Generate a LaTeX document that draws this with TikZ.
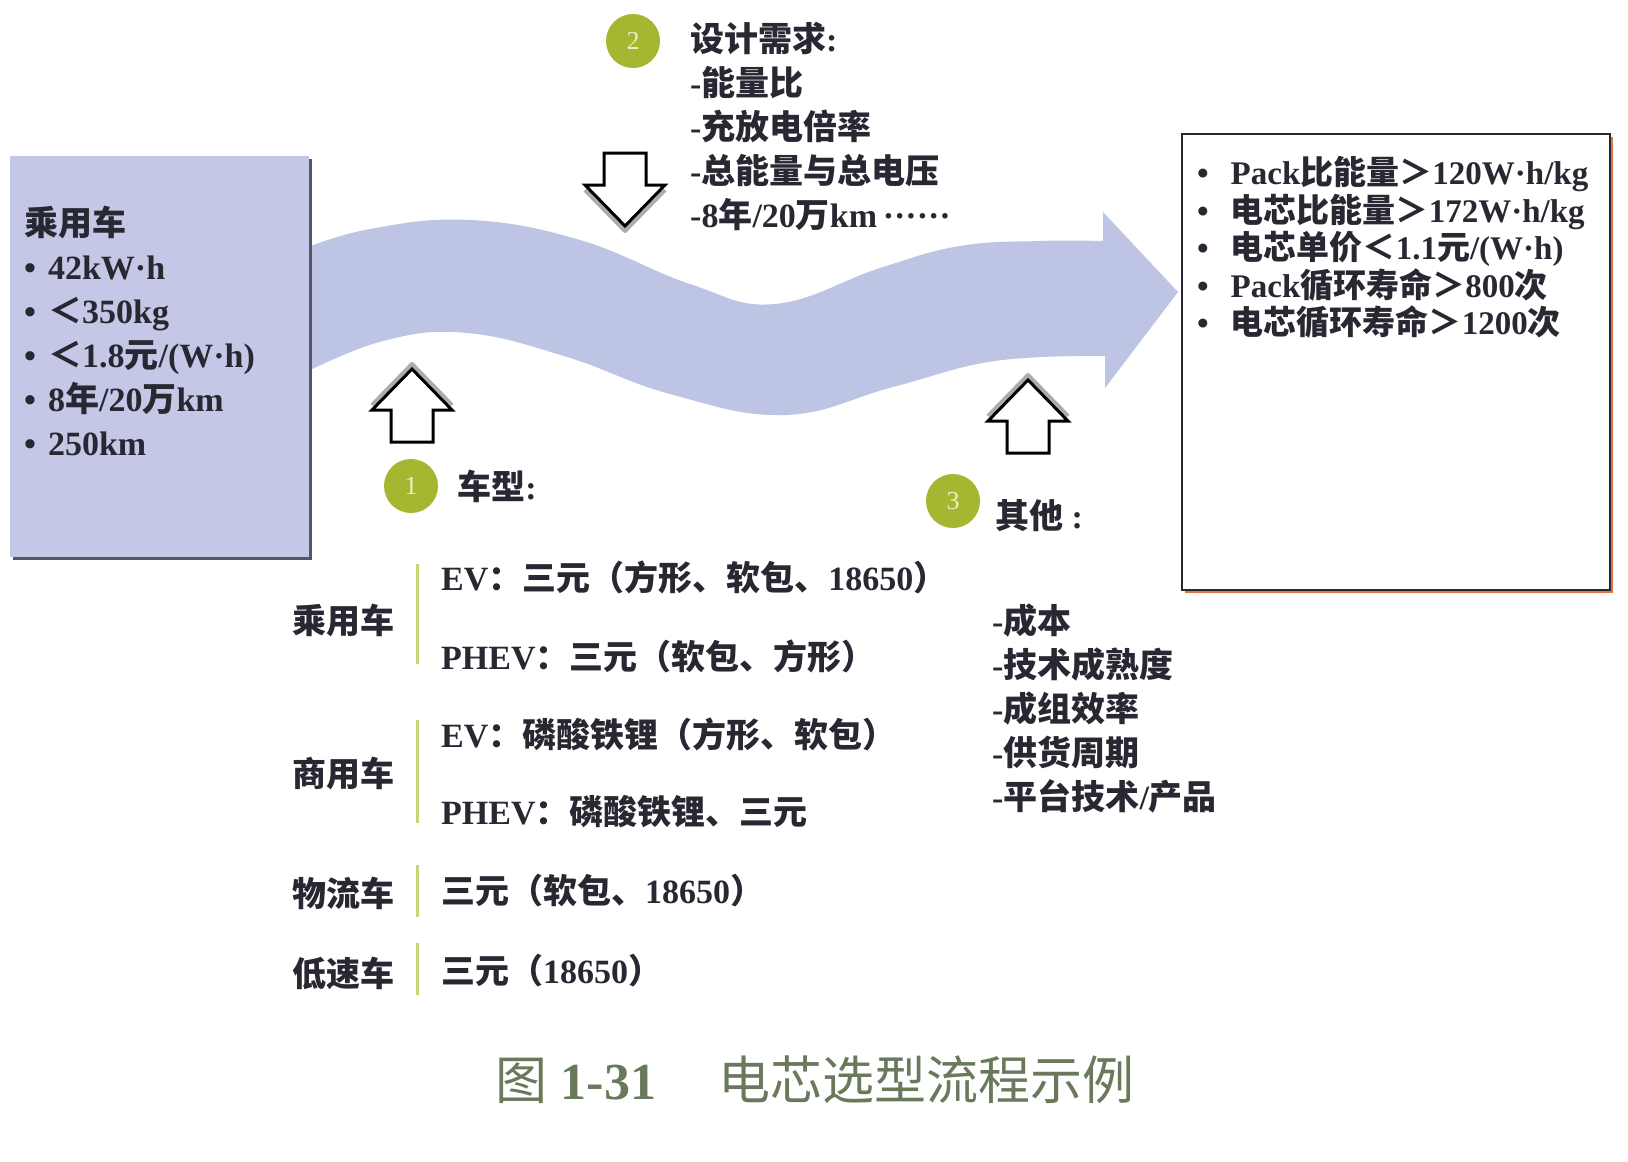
\documentclass[tikz,border=0pt]{standalone}
\usepackage{fontspec}
\setmainfont{Liberation Serif}
\newfontfamily\cjk{Noto Sans CJK SC}
\usetikzlibrary{positioning}

% CJK FONT SWITCHING
\XeTeXinterchartokenstate=1
\newXeTeXintercharclass\cjkclass
\newcount\cjkcount
\cjkcount="3000
\loop \XeTeXcharclass\cjkcount=\cjkclass \advance\cjkcount by 1 \ifnum\cjkcount<"3040 \repeat
\cjkcount="4E00
\loop \XeTeXcharclass\cjkcount=\cjkclass \advance\cjkcount by 1 \ifnum\cjkcount<"A000 \repeat
\cjkcount="FF00
\loop \XeTeXcharclass\cjkcount=\cjkclass \advance\cjkcount by 1 \ifnum\cjkcount<"FF60 \repeat
\XeTeXinterchartoks 0 \cjkclass = {\cjk}
\XeTeXinterchartoks 4095 \cjkclass = {\cjk}
\XeTeXinterchartoks \cjkclass 0 = {\rmfamily}
\XeTeXinterchartoks \cjkclass 4095 = {\rmfamily}

\definecolor{bandblue}{RGB}{190,196,228}
\definecolor{boxblue}{RGB}{196,199,229}
\definecolor{boxshade}{RGB}{85,85,100}
\definecolor{badgegreen}{RGB}{166,182,48}
\definecolor{badgetext}{RGB}{238,238,200}
\definecolor{bargreen}{RGB}{200,214,120}
\definecolor{inkgray}{RGB}{40,40,50}
\definecolor{capgreen}{RGB}{105,122,92}
\definecolor{shadowred}{RGB}{225,115,70}

\begin{document}
\begin{tikzpicture}[x=1pt, y=-1pt,
    txt/.style={font=\bfseries\fontsize{34}{44}\selectfont, text=inkgray, inner sep=0pt},
    spectxt/.style={font=\bfseries\fontsize{33}{37.5}\selectfont, text=inkgray, inner sep=0pt, align=left},
    badge/.style={circle, fill=badgegreen, minimum size=54pt, inner sep=0pt, text=badgetext, font=\fontsize{26}{26}\selectfont},
    greenbar/.style={draw=bargreen, line width=3pt},
    blockarrow/.pic={
        \draw[gray!65, line width=4pt, line join=round] (-40,-37) -- (0,-78) -- (40,-37);
        \draw[line width=3pt, fill=white] (-21,0) -- (-21,-32) -- (-40,-32) -- (0,-73)
            -- (40,-32) -- (21,-32) -- (21,0) -- cycle;
    }]

    \useasboundingbox (0,0) rectangle (1628,1162);
    \fill[white] (0,0) rectangle (1628,1162);

    % DRAW WAVY BAND
    \fill[bandblue] plot[smooth, tension=0.7] coordinates {(300,250) (370,229) (470,220) (580,240) (690,284) (775,304) (880,268) (960,246) (1040,241) (1103,241)}
        -- (1103,212) -- (1178,292) -- (1105,388) -- (1105,356)
        -- plot[smooth, tension=0.7] coordinates {(1105,356) (995,361) (893,387) (785,415) (670,394) (567,357) (467,333) (383,341) (300,375)}
        -- cycle;

    % DRAW LEFT BOX
    \fill[boxshade] (13,159) rectangle (312,560);
    \node[fill=boxblue, minimum width=299pt, minimum height=401pt, anchor=north west] (car) at (10,156) {};
    \node[txt, align=left, anchor=north west] (cartext) at (24,206) {乘用车\\
        •\hspace{12pt}42kW·h\\ •\hspace{12pt}＜350kg\\ •\hspace{12pt}＜1.8元/(W·h)\\
        •\hspace{12pt}8年/20万km\\ •\hspace{12pt}250km};

    % DRAW RIGHT BOX
    \fill[shadowred] (1185,137) rectangle (1613,593);
    \node[draw=inkgray, line width=2pt, fill=white, minimum width=428pt, minimum height=456pt, anchor=north west] (spec) at (1181,133) {};
    \node[spectxt, anchor=north west] (spectext) at (1197,156) {%
        •\hspace{22pt}Pack比能量＞120W·h/kg\\ •\hspace{22pt}电芯比能量＞172W·h/kg\\
        •\hspace{22pt}电芯单价＜1.1元/(W·h)\\ •\hspace{22pt}Pack循环寿命＞800次\\
        •\hspace{22pt}电芯循环寿命＞1200次};

    % DRAW BLOCK ARROWS
    \pic at (412,442) {blockarrow};
    \pic at (1028,453) {blockarrow};
    \pic[rotate=180] at (625,153) {blockarrow};

    % DRAW BADGES AND HEADINGS
    \node[badge] (b2) at (633,41) {2};
    \node[txt, align=left, anchor=north west] (design) at (690,22) {设计需求:\\ -能量比\\ -充放电倍率\\ -总能量与总电压\\ -8年/20万km\,······};
    \node[badge] (b1) at (411,486) {1};
    \node[txt, right=19pt of b1] (typehead) {车型:};
    \node[badge] (b3) at (953,501) {3};
    \node[txt, anchor=west] (otherhead) at (995,516) {其他 :};
    \node[txt, align=left, anchor=north west] (others) at (992,604) {-成本\\ -技术成熟度\\ -成组效率\\ -供货周期\\ -平台技术/产品};

    % DRAW VEHICLE LIST
    \node[txt] (pv) at (343,620) {乘用车};
    \node[txt] (cv) at (343,773) {商用车};
    \node[txt] (lv) at (343,893) {物流车};
    \node[txt] (sv) at (343,973) {低速车};
    \draw[greenbar] (417,564) -- (417,664);
    \draw[greenbar] (417,720) -- (417,823);
    \draw[greenbar] (417,865) -- (417,917);
    \draw[greenbar] (417,943) -- (417,995);
    \node[txt, anchor=west] (pvev) at (441,577) {EV：三元（方形、软包、18650）};
    \node[txt, anchor=west] (pvphev) at (441,656) {PHEV：三元（软包、方形）};
    \node[txt, anchor=west] (cvev) at (441,734) {EV：磷酸铁锂（方形、软包）};
    \node[txt, anchor=west] (cvphev) at (441,812) {PHEV：磷酸铁锂、三元};
    \node[txt, anchor=west] (lvcell) at (441,891) {三元（软包、18650）};
    \node[txt, anchor=west] (svcell) at (441,971) {三元（18650）};

    % CAPTION
    \node[font=\fontsize{52}{52}\selectfont, text=capgreen, inner sep=0pt] (caption) at (815,1080) {图 {\bfseries 1-31}\hspace{62pt}电芯选型流程示例};

\end{tikzpicture}
\end{document}
